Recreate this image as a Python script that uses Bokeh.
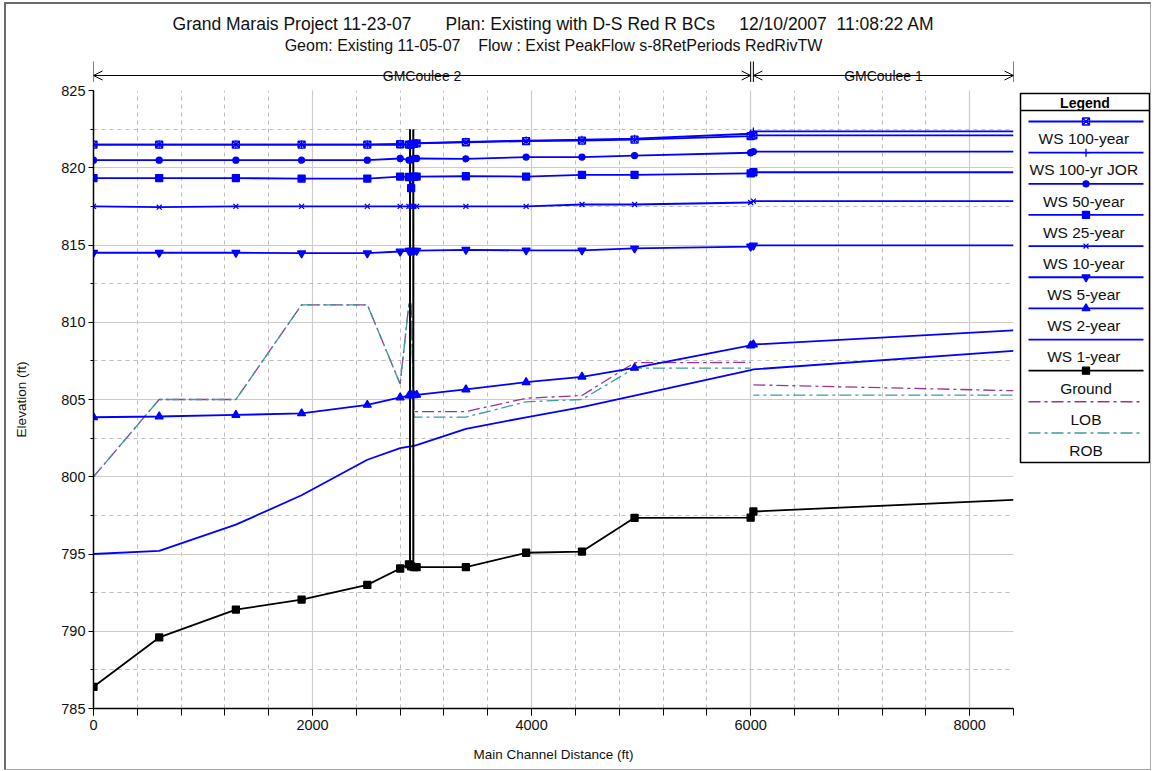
import math
from bokeh.plotting import figure
from bokeh.models import Range1d, SingleIntervalTicker, Arrow, OpenHead
from bokeh.layouts import column, row
from bokeh.embed import file_html
from bokeh.resources import INLINE
from bokeh.core.properties import value

# ---------------- data ----------------
stations = [0, 600, 1300, 1900, 2500, 2800, 2880, 2900, 2925, 2950, 3400, 3950, 4460, 4940, 6000, 6025, 8400]
ws_100_year = [821.5, 821.5, 821.5, 821.5, 821.5, 821.52, 821.5, 821.5, 821.55, 821.58, 821.65, 821.72, 821.76, 821.82, 822.05, 822.1, 822.1]
ws_100_jor = [821.5, 821.5, 821.5, 821.5, 821.5, 821.52, 821.5, 821.5, 821.57, 821.6, 821.68, 821.76, 821.82, 821.88, 822.2, 822.35, 822.35]
ws_50_year = [820.49, 820.49, 820.49, 820.49, 820.49, 820.6, 820.5, 820.5, 820.6, 820.6, 820.58, 820.69, 820.69, 820.79, 820.97, 821.05, 821.05]
ws_25_year = [819.33, 819.33, 819.33, 819.3, 819.3, 819.43, 819.4, 818.68, 819.43, 819.43, 819.45, 819.43, 819.54, 819.54, 819.63, 819.71, 819.71]
ws_10_year = [817.5, 817.45, 817.5, 817.5, 817.5, 817.5, 817.5, 817.5, 817.5, 817.5, 817.5, 817.5, 817.62, 817.62, 817.75, 817.84, 817.84]
ws_5_year = [814.5, 814.5, 814.5, 814.47, 814.47, 814.58, 814.63, 814.63, 814.63, 814.63, 814.69, 814.65, 814.65, 814.78, 814.9, 814.97, 814.97]
ws_2_year = [803.85, 803.9, 804.0, 804.1, 804.65, 805.13, 805.25, 805.28, 805.28, 805.3, 805.65, 806.12, 806.47, 807.05, 808.5, 808.56, 809.47]
ws_1_year = [795.0, 795.2, 796.9, 798.8, 801.1, 801.85, 801.95, 801.97, 802.0, 802.05, 803.1, 803.85, 804.5, 805.25, 806.9, 806.95, 808.15]
ground = [786.4, 789.6, 791.4, 792.05, 793.0, 794.06, 794.33, 794.2, 794.15, 794.15, 794.15, 795.08, 795.16, 797.34, 797.35, 797.75, 798.5]

bank_stations = [0, 600, 1300, 1900, 2500, 2800, 2880, 2900, 2925, 2950, 3400, 3950, 4460, 4940, 6000, float("nan"), 6025, 8400]
lob = [800.0, 805.0, 805.0, 811.13, 811.13, 806.0, 811.2, 811.2, 804.22, 804.22, 804.22, 805.08, 805.26, 807.38, 807.4, float("nan"), 805.95, 805.57]
rob = [800.0, 805.0, 805.0, 811.13, 811.13, 806.0, 811.2, 811.2, 803.86, 803.86, 803.86, 804.85, 805.0, 807.03, 807.03, float("nan"), 805.28, 805.28]

culvert_x = [2890, 2920]
culvert_bottom = [794.3, 794.15]
culvert_top = [822.5, 822.5]

reach_names = ["GMCoulee 2", "GMCoulee 1"]
reach_start = [0, 6025]
reach_end = [6000, 8400]

legend_labels = ["WS  100-year", "WS  100-yr JOR", "WS  50-year", "WS  25-year", "WS  10-year",
                 "WS  5-year", "WS  2-year", "WS  1-year", "Ground", "LOB", "ROB"]

title_text = "Grand Marais Project 11-23-07\u00a0\u00a0\u00a0\u00a0\u00a0\u00a0 Plan: Existing with D-S Red R BCs\u00a0\u00a0\u00a0\u00a0 12/10/2007\u00a0 11:08:22 AM"
subtitle_text = "Geom: Existing 11-05-07\u00a0\u00a0\u00a0 Flow : Exist PeakFlow s-8RetPeriods RedRivTW"
x_label = "Main Channel Distance (ft)"
y_label = "Elevation (ft)"

X0, X1 = 0, 8400
Y0, Y1 = 785, 825
X_TICK, Y_TICK = 2000, 5

# ---------------- styles ----------------
FONT = "Liberation Sans"
BLUE = "#0000ff"
LOB_C = "#993399"
ROB_C = "#3c9c9c"
BANK_DASH = "12 4 3 4"

# (values, colour, marker, size, filled)
series = [
    (ws_100_year, BLUE, "square_x", 7, False),
    (ws_100_jor, BLUE, "cross", 8, True),
    (ws_50_year, BLUE, "circle", 6, True),
    (ws_25_year, BLUE, "square", 7, True),
    (ws_10_year, BLUE, "x", 7, True),
    (ws_5_year, BLUE, "inverted_triangle", 8, True),
    (ws_2_year, BLUE, "triangle", 8, True),
    (ws_1_year, BLUE, None, 0, True),
    (ground, "black", "square", 7, True),
]

# ---------------- main plot ----------------
main = figure(width=1010, height=687, x_range=Range1d(X0, X1), y_range=Range1d(Y0, Y1),
              output_backend="svg", toolbar_location=None,
              min_border_left=87, min_border_right=3, min_border_top=8, min_border_bottom=61)
main.outline_line_color = None
main.background_fill_color = "white"
main.border_fill_color = "white"

main.xaxis.ticker = SingleIntervalTicker(interval=X_TICK, num_minor_ticks=5)
main.yaxis.ticker = SingleIntervalTicker(interval=Y_TICK, num_minor_ticks=2)
for ax in (main.xaxis[0], main.yaxis[0]):
    ax.axis_line_color = "black"
    ax.axis_line_width = 1.5
    ax.major_tick_line_color = "black"
    ax.minor_tick_line_color = "black"
    ax.major_tick_in = 0
    ax.minor_tick_in = 0
    ax.major_label_text_font = FONT
    ax.major_label_text_font_size = "14.5px"
    ax.major_label_text_color = "#111111"
    ax.axis_label_text_font = FONT
    ax.axis_label_text_font_size = "13.5px"
    ax.axis_label_text_font_style = "normal"
    ax.axis_label_text_color = "#111111"
main.xaxis.major_tick_out = 7
main.xaxis.minor_tick_out = 7
main.xaxis.major_label_standoff = 4
main.xaxis.axis_label = x_label
main.xaxis.axis_label_standoff = 14
main.yaxis.major_tick_out = 5
main.yaxis.minor_tick_out = 3
main.yaxis.major_label_standoff = 3
main.yaxis.axis_label = y_label
main.yaxis.axis_label_standoff = 29

for g in (main.xgrid[0], main.ygrid[0]):
    g.grid_line_color = "#cccccc"
    g.grid_line_width = 1.2
    g.minor_grid_line_color = "#bdbdbd"
    g.minor_grid_line_dash = "4 4"
    g.minor_grid_line_width = 1

main.line(bank_stations, lob, line_color=LOB_C, line_width=1.3, line_dash=BANK_DASH)
main.line(bank_stations, rob, line_color=ROB_C, line_width=1.3, line_dash=BANK_DASH, line_dash_offset=6)

for ys, color, marker, size, filled in series:
    main.line(stations, ys, line_color=color, line_width=1.8)

main.segment(x0=culvert_x, y0=culvert_bottom, x1=culvert_x, y1=culvert_top, line_color="black", line_width=2)

for ys, color, marker, size, filled in series:
    if marker:
        main.scatter(stations[:-1], ys[:-1], marker=marker, size=size, line_color=color,
                     fill_color=color if filled else None, line_width=1.3)

# ---------------- top band (titles + reaches) ----------------
top = figure(width=1144, height=78, x_range=main.x_range, y_range=Range1d(78, 0),
             output_backend="svg", toolbar_location=None,
             x_axis_location=None, y_axis_location=None,
             min_border_left=87, min_border_right=137, min_border_top=0, min_border_bottom=0)
top.outline_line_color = None
top.grid.visible = False
xc = (X0 + X1) / 2
top.text(x=[xc], y=[19], text=[title_text], text_font=value(FONT), text_font_size="17.5px",
         text_align="center", text_baseline="middle", text_color="#111111")
top.text(x=[xc], y=[41], text=[subtitle_text], text_font=value(FONT), text_font_size="16px",
         text_align="center", text_baseline="middle", text_color="#111111")
ARROW_Y = 71
top.segment(x0=reach_start, y0=[57] * 2, x1=reach_start, y1=[78] * 2, line_color="black", line_width=1)
top.segment(x0=reach_end, y0=[57] * 2, x1=reach_end, y1=[78] * 2, line_color="black", line_width=1)
for s, e in zip(reach_start, reach_end):
    top.add_layout(Arrow(x_start=s, x_end=e, y_start=ARROW_Y, y_end=ARROW_Y, line_width=1,
                         start=OpenHead(size=9, line_width=1), end=OpenHead(size=9, line_width=1)))
mids = [(s + e) / 2 for s, e in zip(reach_start, reach_end)]
top.text(x=mids, y=[ARROW_Y] * 2, text=reach_names, text_font=value(FONT), text_font_size="14px",
         text_align="center", text_baseline="middle", text_color="#111111",
         background_fill_color="white", padding=4)

# ---------------- legend panel (coordinates = page pixels, frame aligned with main) ----------------
leg = figure(width=134, height=687, x_range=Range1d(1016, 1150), y_range=Range1d(708, 90),
             output_backend="svg", toolbar_location=None,
             x_axis_location=None, y_axis_location=None,
             min_border_left=0, min_border_right=0, min_border_top=8, min_border_bottom=61)
leg.outline_line_color = None
leg.grid.visible = False
leg.quad(left=[1020], right=[1149], top=[93], bottom=[462], fill_color=None, line_color="black", line_width=1.5)
leg.segment(x0=[1020], y0=[110], x1=[1149], y1=[110], line_color="black", line_width=1.5)
leg.text(x=[1084.5], y=[102], text=["Legend"], text_font=value(FONT), text_font_size="14px",
         text_font_style="bold", text_align="center", text_baseline="middle", text_color="black")
styles = [(BLUE, None, m, s, f) for (_, _, m, s, f) in series[:8]] + [("black", None, "square", 7, True),
                                                                    (LOB_C, BANK_DASH, None, 0, True),
                                                                    (ROB_C, BANK_DASH, None, 0, True)]
for k, (label, (color, dash, marker, size, filled)) in enumerate(zip(legend_labels, styles)):
    ly = 121 + 31.15 * k
    if dash:
        leg.line([1028, 1143], [ly, ly], line_color=color, line_width=1.5, line_dash=dash)
    else:
        leg.line([1028, 1143], [ly, ly], line_color=color, line_width=1.8)
    if marker:
        leg.scatter([1085.5], [ly], marker=marker, size=size, line_color=color,
                    fill_color=color if filled else None, line_width=1.3)
    leg.text(x=[1085.5], y=[ly + 17.3], text=[label], text_font=value(FONT), text_font_size="15.5px",
             text_align="center", text_baseline="middle", text_color="#111111")

layout = column(top, row(main, leg), margin=(2, 0, 0, 4),
                styles={"border-style": "solid", "border-width": "2px 1px 1px 2px",
                        "border-color": "#6a6a6a #aaaaaa #aaaaaa #6a6a6a", "background-color": "white"})

open("out.html", "w").write(file_html(layout, INLINE))
